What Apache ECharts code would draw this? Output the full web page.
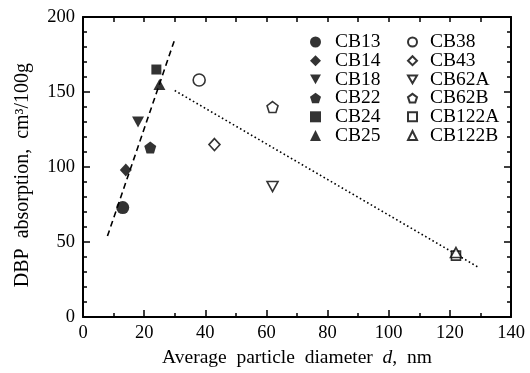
<!DOCTYPE html>
<html><head><meta charset="utf-8">
<script src="https://cdn.jsdelivr.net/npm/echarts@6/dist/echarts.min.js"></script>
<style>html,body{margin:0;padding:0;background:#fff}#c{width:530px;height:373px}</style>
</head><body><div id="c"></div>
<script>
const names = ['CB13','CB14','CB18','CB22','CB24','CB25','CB38','CB43','CB62A','CB62B','CB122A','CB122B'];
const diam = [13,14,18,22,24,25,38,43,62,62,122,122];
const dbp = [73,98,130,113,165,155,158,115,87,140,41,43];
const dashedFit = [[8,54],[30,185]];
const dottedFit = [[30,151],[129.5,33]];
const xTicks = [0,20,40,60,80,100,120,140];
const yTicks = [0,50,100,150,200];

const DOWN = 'path://M0,0 L100,0 L50,87 Z';
const PENT = 'path://M50,0 L97.6,34.5 L79.4,90.5 L20.6,90.5 L2.4,34.5 Z';
const symbols = ['circle','diamond',DOWN,PENT,'rect','triangle','circle','diamond',DOWN,PENT,'rect','triangle'];
const sizes = [[13,13],[12,13],[12,11],[12,12],[10,10],[12,11],[12,12],[11,12],[11,10],[11,11],[9,9],[11,10]];
const font = 'Liberation Serif, Times New Roman, serif';

const series = names.map((n,i)=>({
  name:n, type:'scatter', symbol:symbols[i], symbolSize:sizes[i],
  data:[[diam[i],dbp[i]]],
  itemStyle: i<6 ? {color:'#000'} : {color:'#fff',borderColor:'#000',borderWidth:1.6},
  z: 5
}));
series.push({type:'line',data:dashedFit,symbol:'none',lineStyle:{color:'#000',width:1.6,type:[6,4]},z:3,silent:true});
series.push({type:'line',data:dottedFit,symbol:'none',lineStyle:{color:'#000',width:1.6,type:[1.6,2.6]},z:3,silent:true});

const txt = {fontFamily:font,fontSize:19.5,color:'#000'};

const chart = echarts.init(document.getElementById('c'),null,{renderer:'canvas'});
chart.setOption({
  animation:false,
  backgroundColor:'#fff',
  grid:{left:83,right:19,top:17,bottom:51},
  legend:[
    {orient:'vertical',left:305,top:27,itemWidth:11,itemHeight:11,itemGap:-1.3,selectedMode:false,
     data:names.slice(0,6),textStyle:Object.assign({},txt,{padding:[0,0,0,9]})},
    {orient:'vertical',left:402,top:27,itemWidth:9,itemHeight:9,itemGap:-1.3,selectedMode:false,
     data:names.slice(6),textStyle:Object.assign({},txt,{padding:[0,0,0,8]})}
  ],
  xAxis:[{
    type:'value', min:xTicks[0], max:xTicks[xTicks.length-1], interval:20,
    name:'{a|Average  particle  diameter  }{i|d}{a|,  nm}', nameLocation:'middle', nameGap:24,
    nameTextStyle:{rich:{a:{fontFamily:font,fontSize:19.5,color:'#000'},i:{fontFamily:font,fontSize:19.5,fontStyle:'italic',color:'#000'}}},
    axisLine:{onZero:false,lineStyle:{color:'#000',width:2}},
    axisTick:{inside:true,length:7,lineStyle:{color:'#000',width:1.5}},
    minorTick:{show:true,splitNumber:2,length:4,lineStyle:{color:'#000',width:1.5}},
    axisLabel:{fontFamily:font,fontSize:18.5,color:'#000',margin:7},
    splitLine:{show:false}
  },{
    type:'value', position:'top', min:xTicks[0], max:xTicks[xTicks.length-1], interval:20,
    axisLine:{show:true,onZero:false,lineStyle:{color:'#000',width:2}},
    axisTick:{show:true,inside:true,length:5,lineStyle:{color:'#000',width:1.5}},
    minorTick:{show:true,splitNumber:2,length:5,lineStyle:{color:'#000',width:1.5}},
    axisLabel:{show:false}, splitLine:{show:false}
  }],
  yAxis:[{
    type:'value', min:yTicks[0], max:yTicks[yTicks.length-1], interval:50,
    name:'DBP  absorption,  cm³/100g', nameLocation:'middle', nameGap:50,
    nameTextStyle:{fontFamily:font,fontSize:20,color:'#000',padding:[0,16,0,0]},
    axisLine:{onZero:false,lineStyle:{color:'#000',width:2}},
    axisTick:{inside:true,length:7,lineStyle:{color:'#000',width:1.5}},
    minorTick:{show:true,splitNumber:5,length:4,lineStyle:{color:'#000',width:1.5}},
    axisLabel:{fontFamily:font,fontSize:18.5,color:'#000',margin:8},
    splitLine:{show:false}
  },{
    type:'value', position:'right', min:yTicks[0], max:yTicks[yTicks.length-1], interval:50,
    axisLine:{show:true,onZero:false,lineStyle:{color:'#000',width:2}},
    axisTick:{show:true,inside:true,length:7,lineStyle:{color:'#000',width:1.5}},
    minorTick:{show:true,splitNumber:5,length:4,lineStyle:{color:'#000',width:1.5}},
    axisLabel:{show:false}, splitLine:{show:false}
  }],
  series:series
});
</script></body></html>
